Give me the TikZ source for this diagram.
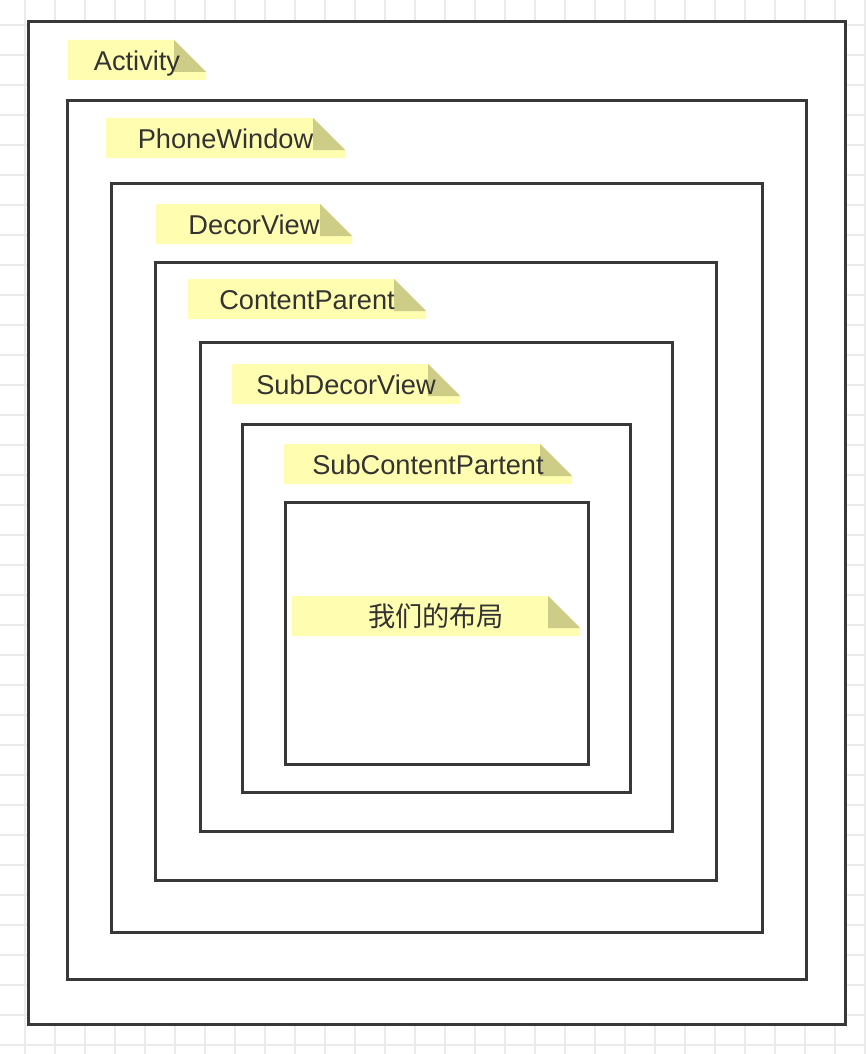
\documentclass[tikz,border=0pt]{standalone}
\usepackage{fontspec}
\setmainfont{Liberation Sans}
\newfontfamily\cjk{Noto Sans CJK SC}
\definecolor{gridc}{HTML}{EBEBEB}
\definecolor{boxc}{HTML}{383838}
\definecolor{notey}{HTML}{FFFDB0}
\definecolor{noteo}{HTML}{CDCD88}
\definecolor{textc}{HTML}{333333}
\tikzset{
  frame/.style={draw=boxc, line width=3pt, fill=white},
  notebody/.style={fill=notey},
  notefold/.style={fill=noteo},
  notetext/.style={text=textc, font=\fontsize{27.2}{30}\selectfont, anchor=base, inner sep=0pt}
}
\newcommand\mynote[5]{%
  \fill[notebody] (#2,#3) -- ({#4-32},#3) -- (#4,{#3+32}) -- (#4,{#3+40}) -- (#2,{#3+40}) -- cycle;
  \fill[notefold] ({#4-32},#3) -- ({#4-32},{#3+32}) -- (#4,{#3+32}) -- cycle;
  \node[notetext] (#1) at ({(#2+#4)/2},{#3+30.5}) {#5};
}
\begin{document}
\begin{tikzpicture}[x=1pt,y=-1pt]
\useasboundingbox (0,0) rectangle (866,1054);
\fill[white] (0,0) rectangle (866,1054);
\foreach \i in {0,...,29} {
  \draw[gridc, line width=1.1pt] ({-5+30*\i},0) -- ({-5+30*\i},1054);
}
\foreach \j in {0,...,35} {
  \draw[gridc, line width=1.1pt] (0,{-5+30*\j}) -- (866,{-5+30*\j});
}
\draw[frame] (28,22) rectangle (845,1024);
\draw[frame] (67,101) rectangle (806,979);
\draw[frame] (111,183) rectangle (762,932);
\draw[frame] (155,262) rectangle (716,880);
\draw[frame] (200,342) rectangle (672,831);
\draw[frame] (242,424) rectangle (630,792);
\draw[frame] (285,502) rectangle (588,764);
\mynote{activity}{68}{40}{206}{Activity}
\mynote{phonewindow}{106}{118}{345}{PhoneWindow}
\mynote{decorview}{156}{204}{352}{DecorView}
\mynote{contentparent}{188}{279}{426}{ContentParent}
\mynote{subdecorview}{232}{364}{460}{SubDecorView}
\mynote{subcontent}{284}{444}{572}{SubContentPartent}
\mynote{layout}{292}{596}{580}{\cjk 我们的布局}
\end{tikzpicture}
\end{document}
